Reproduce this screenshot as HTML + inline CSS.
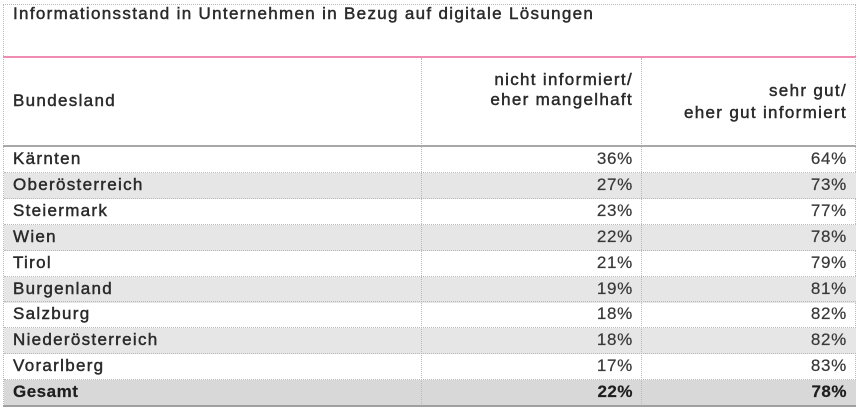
<!DOCTYPE html>
<html>
<head>
<meta charset="utf-8">
<style>
  html, body { margin:0; padding:0; }
  body { width:860px; height:413px; background:#fff; position:relative; overflow:hidden;
         font-family:"Liberation Sans", Arial, sans-serif; color:#2e2e2e; }
  .abs { position:absolute; }
  .t { position:absolute; font-size:17px; letter-spacing:1.32px; white-space:nowrap; line-height:20px;
       -webkit-text-stroke:0.45px #2a2a2a; color:#2a2a2a; }
  .row { position:absolute; left:4px; width:852px; height:26px; }
  .g { background:#e6e6e6; }
  .tot { background:#d8d8d8; }
  .dl { position:absolute; left:4px; width:852px; height:0; border-top:1px dotted #b8b8b8; }
  .lbl { position:absolute; left:13px; font-size:17px; letter-spacing:1.3px; line-height:26px; white-space:nowrap;
         color:#2a2a2a; -webkit-text-stroke:0.45px #2a2a2a; }
  .n1 { position:absolute; right:227px; font-size:17px; letter-spacing:0.7px; line-height:26px; white-space:nowrap; color:#383838; text-align:right; -webkit-text-stroke:0.2px #383838; }
  .n2 { position:absolute; right:13px; font-size:17px; letter-spacing:0.7px; line-height:26px; white-space:nowrap; color:#383838; text-align:right; -webkit-text-stroke:0.2px #383838; }
  .b { font-weight:bold; letter-spacing:0.5px; color:#1e1e1e; -webkit-text-stroke:0.2px #1e1e1e; }
</style>
</head>
<body>
  <!-- outer dotted frame -->
  <div class="abs" style="left:3px;top:4px;width:853px;height:402px;border-left:1px dotted #b8b8b8;border-top:1px dotted #b8b8b8;border-right:1px dotted #b8b8b8;box-sizing:border-box;"></div>

  <!-- title -->
  <div class="t" style="left:13px;top:4px;">Informationsstand in Unternehmen in Bezug auf digitale Lösungen</div>

  <!-- pink line -->
  <div class="abs" style="left:3px;top:56px;width:853px;height:2px;background:#f08cb2;"></div>

  <!-- header texts -->
  <div class="t" style="left:13px;top:91px;">Bundesland</div>
  <div class="t" style="right:227px;top:70px;text-align:right;">nicht informiert/<br>eher mangelhaft</div>
  <div class="t" style="right:13px;top:80px;text-align:right;line-height:21.5px;">sehr gut/<br>eher gut informiert</div>

  <!-- rows backgrounds -->
  <div class="row" style="top:147px;"></div>
  <div class="row g" style="top:173px;"></div>
  <div class="row" style="top:199px;"></div>
  <div class="row g" style="top:225px;"></div>
  <div class="row" style="top:251px;"></div>
  <div class="row g" style="top:277px;"></div>
  <div class="row" style="top:302px;"></div>
  <div class="row g" style="top:328px;"></div>
  <div class="row" style="top:354px;"></div>
  <div class="row tot" style="top:380px;"></div>

  <!-- dotted row separators -->
  <div class="dl" style="top:172px;"></div>
  <div class="dl" style="top:198px;"></div>
  <div class="dl" style="top:224px;"></div>
  <div class="dl" style="top:250px;"></div>
  <div class="dl" style="top:276px;"></div>
  <div class="dl" style="top:301px;"></div>
  <div class="dl" style="top:327px;"></div>
  <div class="dl" style="top:353px;"></div>
  <div class="dl" style="top:379px;"></div>

  <!-- column separators -->
  <div class="abs" style="left:421px;top:58px;width:0;height:348px;border-left:1px dotted #b8b8b8;"></div>
  <div class="abs" style="left:641px;top:58px;width:0;height:348px;border-left:1px dotted #b8b8b8;"></div>

  <!-- header bottom solid line -->
  <div class="abs" style="left:3px;top:145px;width:853px;height:2px;background:#a8a8a8;"></div>
  <!-- bottom line -->
  <div class="abs" style="left:3px;top:405px;width:853px;height:2px;background:#a0a0a0;"></div>

  <!-- row texts -->
  <div class="lbl" style="top:146px;">Kärnten</div>
  <div class="n1" style="top:146px;">36%</div>
  <div class="n2" style="top:146px;">64%</div>

  <div class="lbl" style="top:172px;">Oberösterreich</div>
  <div class="n1" style="top:172px;">27%</div>
  <div class="n2" style="top:172px;">73%</div>

  <div class="lbl" style="top:198px;">Steiermark</div>
  <div class="n1" style="top:198px;">23%</div>
  <div class="n2" style="top:198px;">77%</div>

  <div class="lbl" style="top:224px;">Wien</div>
  <div class="n1" style="top:224px;">22%</div>
  <div class="n2" style="top:224px;">78%</div>

  <div class="lbl" style="top:250px;">Tirol</div>
  <div class="n1" style="top:250px;">21%</div>
  <div class="n2" style="top:250px;">79%</div>

  <div class="lbl" style="top:276px;">Burgenland</div>
  <div class="n1" style="top:276px;">19%</div>
  <div class="n2" style="top:276px;">81%</div>

  <div class="lbl" style="top:301px;">Salzburg</div>
  <div class="n1" style="top:301px;">18%</div>
  <div class="n2" style="top:301px;">82%</div>

  <div class="lbl" style="top:327px;">Niederösterreich</div>
  <div class="n1" style="top:327px;">18%</div>
  <div class="n2" style="top:327px;">82%</div>

  <div class="lbl" style="top:353px;">Vorarlberg</div>
  <div class="n1" style="top:353px;">17%</div>
  <div class="n2" style="top:353px;">83%</div>

  <div class="lbl b" style="top:379px;">Gesamt</div>
  <div class="n1 b" style="top:379px;">22%</div>
  <div class="n2 b" style="top:379px;">78%</div>
</body>
</html>
